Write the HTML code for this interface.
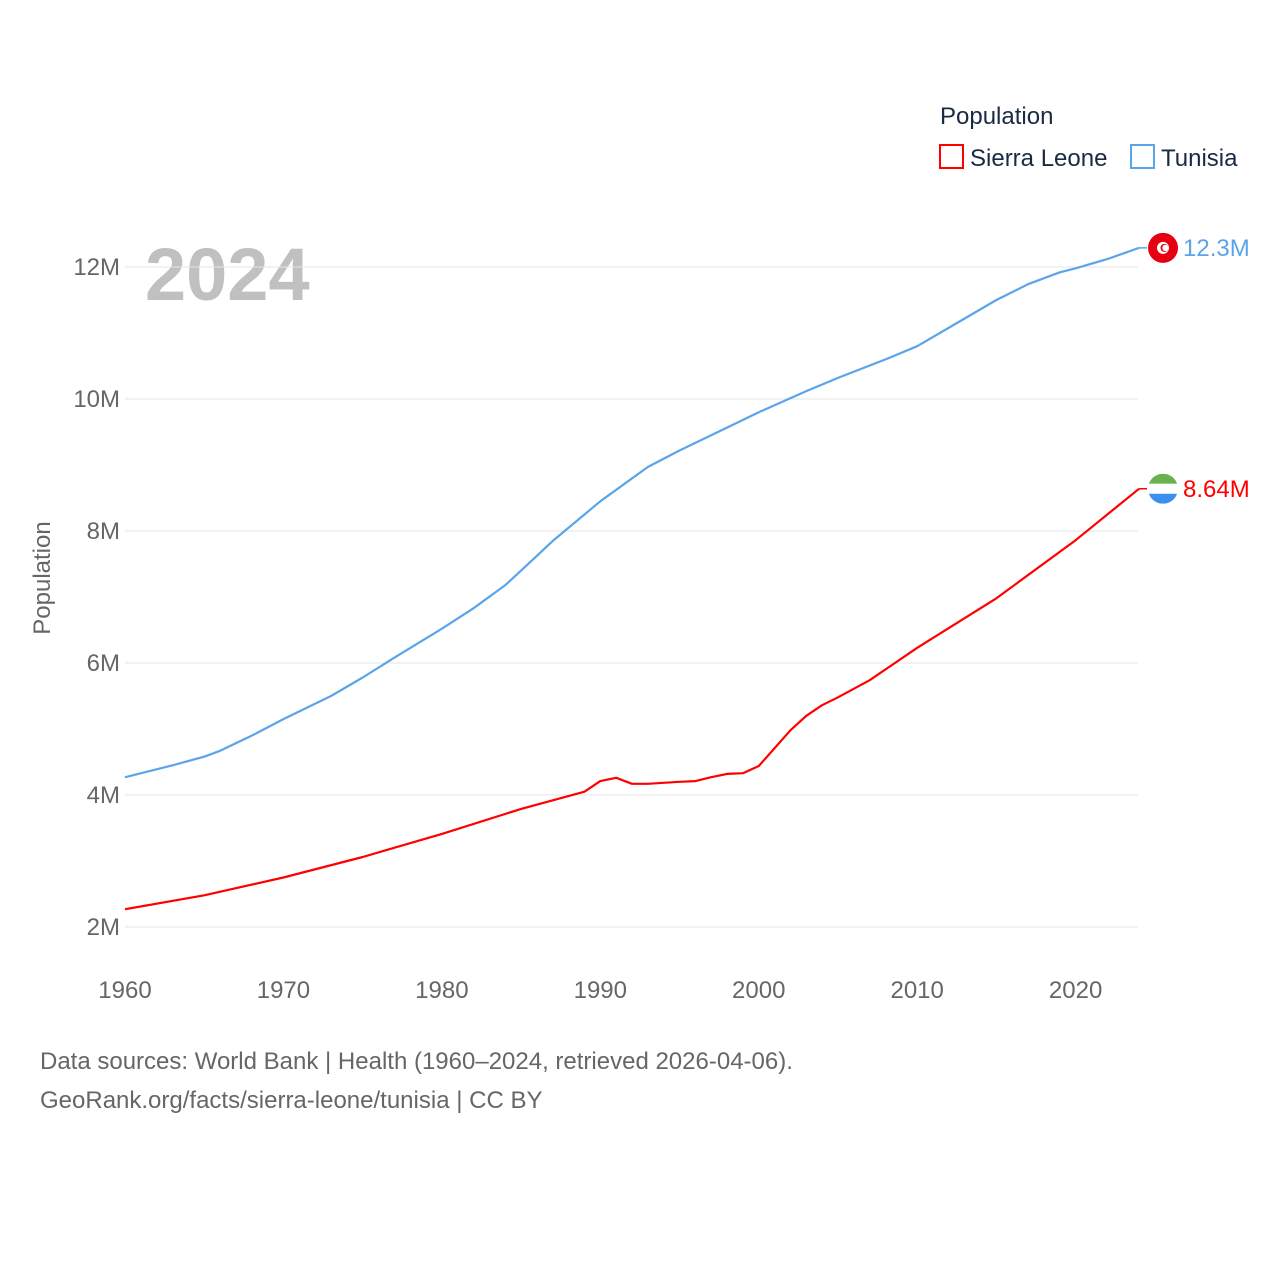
<!DOCTYPE html>
<html><head><meta charset="utf-8">
<style>
body{margin:0;background:#fff;width:1280px;height:1280px;overflow:hidden;font-family:"Liberation Sans",sans-serif;}
svg{display:block}
</style></head>
<body>
<svg id="chart" width="1280" height="1280">
<text x="940" y="124" font-size="24" fill="#1a2a44">Population</text>
<rect x="940" y="145" width="23" height="23" fill="none" stroke="#ff0000" stroke-width="2"/>
<text x="970" y="166" font-size="24" fill="#1a2a44">Sierra Leone</text>
<rect x="1131" y="145" width="23" height="23" fill="none" stroke="#5ba4ea" stroke-width="2"/>
<text x="1161" y="166" font-size="24" fill="#1a2a44">Tunisia</text>
<text x="145" y="300" font-size="74" font-weight="bold" fill="#c0c0c0">2024</text>
<text transform="translate(50,578) rotate(-90)" text-anchor="middle" font-size="24" fill="#666">Population</text>
<g id="grid"></g><g id="series"></g>
<text x="40" y="1069" font-size="24" fill="#666">Data sources: World Bank | Health (1960–2024, retrieved 2026-04-06).</text>
<text x="40" y="1108" font-size="24" fill="#666">GeoRank.org/facts/sierra-leone/tunisia | CC BY</text>
</svg>
<script>
const yTicks=[2,4,6,8,10,12];
const yTickLabels=["2M","4M","6M","8M","10M","12M"];
const xTicks=[1960,1970,1980,1990,2000,2010,2020];
const tunYears=[1960,1963,1965,1966,1968,1970,1973,1975,1977,1980,1982,1984,1985,1987,1990,1993,1995,1997,2000,2003,2005,2008,2010,2013,2015,2017,2019,2020,2022,2024];
const tunVals=[4.27,4.45,4.58,4.67,4.9,5.15,5.5,5.78,6.08,6.52,6.83,7.18,7.4,7.85,8.45,8.97,9.22,9.45,9.8,10.12,10.32,10.6,10.8,11.22,11.5,11.74,11.92,11.98,12.12,12.29];
const slYears=[1960,1965,1970,1975,1980,1985,1989,1990,1991,1992,1993,1995,1996,1997,1998,1999,2000,2002,2003,2004,2005,2007,2010,2015,2020,2024];
const slVals=[2.27,2.48,2.75,3.06,3.41,3.79,4.05,4.21,4.26,4.17,4.17,4.2,4.21,4.27,4.32,4.33,4.44,4.98,5.2,5.36,5.48,5.74,6.23,6.98,7.86,8.64];
const x=v=>125+(v-1960)*(1014/64);
const y=v=>927-(v-2)*66;
const ns="http://www.w3.org/2000/svg";
const grid=document.getElementById('grid'),ser=document.getElementById('series');
function mk(tag,attrs,parent,txt){const e=document.createElementNS(ns,tag);for(const k in attrs)e.setAttribute(k,attrs[k]);if(txt!==undefined)e.textContent=txt;parent.appendChild(e);return e;}
yTicks.forEach((t,i)=>{
 const l=mk('line',{x1:125,x2:1138,y1:y(t),y2:y(t),stroke:'#e6e6e6','stroke-width':1},grid);
 
 
 const tx=mk('text',{x:120,y:y(t)+8,'text-anchor':'end','font-size':24,fill:'#666'},grid,yTickLabels[i]);
 
 
});
xTicks.forEach(t=>{
 const tx=mk('text',{x:x(t),y:998,'text-anchor':'middle','font-size':24,fill:'#666'},grid,String(t));
 
 
});
function line(years,vals,color,name){
 const d=years.map((yr,i)=>(i?'L':'M')+x(yr).toFixed(1)+','+y(vals[i]).toFixed(1)).join(' ');
 const p=mk('path',{d:d,fill:'none',stroke:color,'stroke-width':2.2,'stroke-linejoin':'round'},ser);
 
 
 const ly=y(vals[vals.length-1]),lx=x(years[years.length-1]);
 mk('line',{x1:lx,x2:lx+8,y1:ly,y2:ly,stroke:color,'stroke-width':1.5},ser);
 return ly;
}
const ty=line(tunYears,tunVals,'#5ba4ea','tunisia-line');
const sy=line(slYears,slVals,'#ff0000','sierra-leone-line');
const f1=mk('circle',{cx:1163,cy:ty,r:15,fill:'#e70013'},ser);


mk('circle',{cx:1163,cy:ty,r:6,fill:'#fff'},ser);
mk('circle',{cx:1164.5,cy:ty,r:4,fill:'#e70013'},ser);
mk('circle',{cx:1165.5,cy:ty,r:3.2,fill:'#fff'},ser);
const tl=mk('text',{x:1183,y:ty+8,'font-size':24,fill:'#5ba4ea'},ser,'12.3M');


const g=mk('g',{},ser);


mk('clipPath',{id:'fc'},g);
mk('circle',{cx:1163,cy:sy,r:15},document.getElementById('fc'));
mk('rect',{x:1148,y:sy-15,width:30,height:10,fill:'#6ab04c','clip-path':'url(#fc)'},g);
mk('rect',{x:1148,y:sy-5,width:30,height:10,fill:'#fff','clip-path':'url(#fc)'},g);
mk('rect',{x:1148,y:sy+5,width:30,height:10,fill:'#3b8fef','clip-path':'url(#fc)'},g);
const sl=mk('text',{x:1183,y:sy+8,'font-size':24,fill:'#ff0000'},ser,'8.64M');


</script>
</body></html>
